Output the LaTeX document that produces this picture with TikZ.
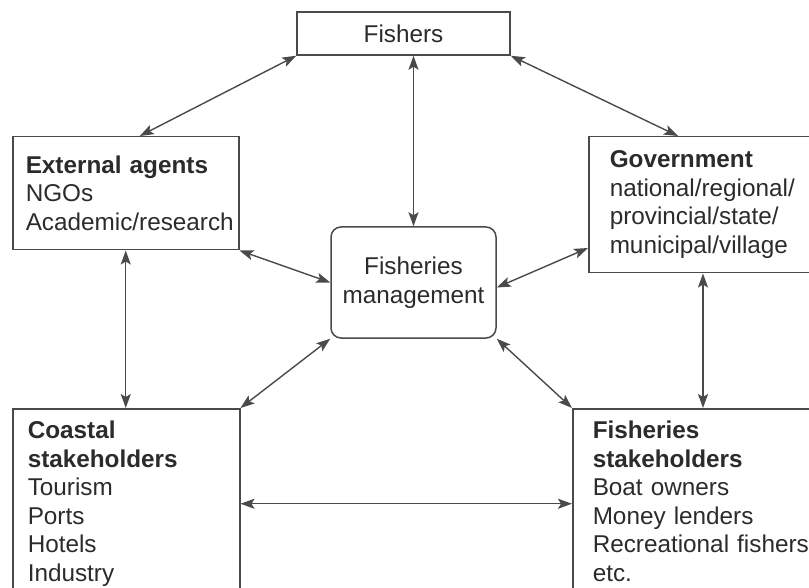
\documentclass[tikz,border=0pt]{standalone}
\usepackage{fontspec}
\setmainfont{Liberation Sans}
\usetikzlibrary{arrows.meta}

\definecolor{inkgray}{HTML}{2B2B2B}
\definecolor{linegray}{HTML}{4A4A4A}

\tikzstyle{actor} = [rectangle, draw=linegray, line width=1.5pt, align=left, inner ysep=0pt, text=inkgray, font=\fontsize{24.3}{28.5}\selectfont]
\tikzstyle{link} = [draw=linegray, line width=1.4pt, {Stealth[length=14pt,width=10pt,inset=3pt]}-{Stealth[length=14pt,width=10pt,inset=3pt]}]

\begin{document}
\begin{tikzpicture}[x=1pt, y=-1pt]
        \useasboundingbox (0,0) rectangle (809,588);
        \clip (0,0) rectangle (809,588);
        % Top and centre
        \node (fishers) at (403.5,33.5) [actor, minimum width=213pt, minimum height=43pt, inner xsep=0pt, align=center] {Fishers};
        \node (fm) at (413.5,282.5) [actor, rounded corners=10pt, minimum width=165pt, minimum height=111pt, inner xsep=0pt, align=center] {Fisheries\\management};
        % Side blocks
        \node (external) at (12,136) [actor, anchor=north west, minimum height=113pt, inner xsep=13pt, text width=200pt] {
            \textbf{External agents}\\NGOs\\Academic/research};
        \node (government) at (588,136) [actor, anchor=north west, minimum height=136pt, inner xsep=21pt, text width=210pt] {
            \textbf{Government}\\national/regional/\\provincial/state/\\municipal/village};
        \node (coastal) at (12,408) [actor, anchor=north west, minimum height=190pt, inner xsep=15pt, text width=197pt] {
            \textbf{Coastal}\\\textbf{stakeholders}\\Tourism\\Ports\\Hotels\\Industry};
        \node (fstake) at (572,408) [actor, anchor=north west, minimum height=190pt, inner xsep=20pt, text width=230pt] {
            \textbf{Fisheries}\\\textbf{stakeholders}\\Boat owners\\Money lenders\\Recreational fishers\\etc.\vphantom{y}};
        % Two-way links
        \draw [link] (fishers.south west) -- ([xshift=14pt]external.north);
        \draw [link] (fishers.south east) -- ([xshift=90pt]government.north west);
        \draw [link] (fm.north |- fishers.south) -- (fm.north);
        \draw [link] (external.south east) -- (fm.west);
        \draw [link] ([yshift=-112pt]government.north west) -- ([yshift=-5pt]fm.east);
        \draw [link] (external.south) -- (external.south |- coastal.north);
        \draw [link] ([xshift=115pt]government.south west) -- ([xshift=115pt]government.south west |- fstake.north);
        \draw [link] (fm.south west) -- (coastal.north east);
        \draw [link] (fm.south east) -- (fstake.north west);
        \draw [link] (coastal.east) -- (coastal.east -| fstake.west);
    \end{tikzpicture}
\end{document}
